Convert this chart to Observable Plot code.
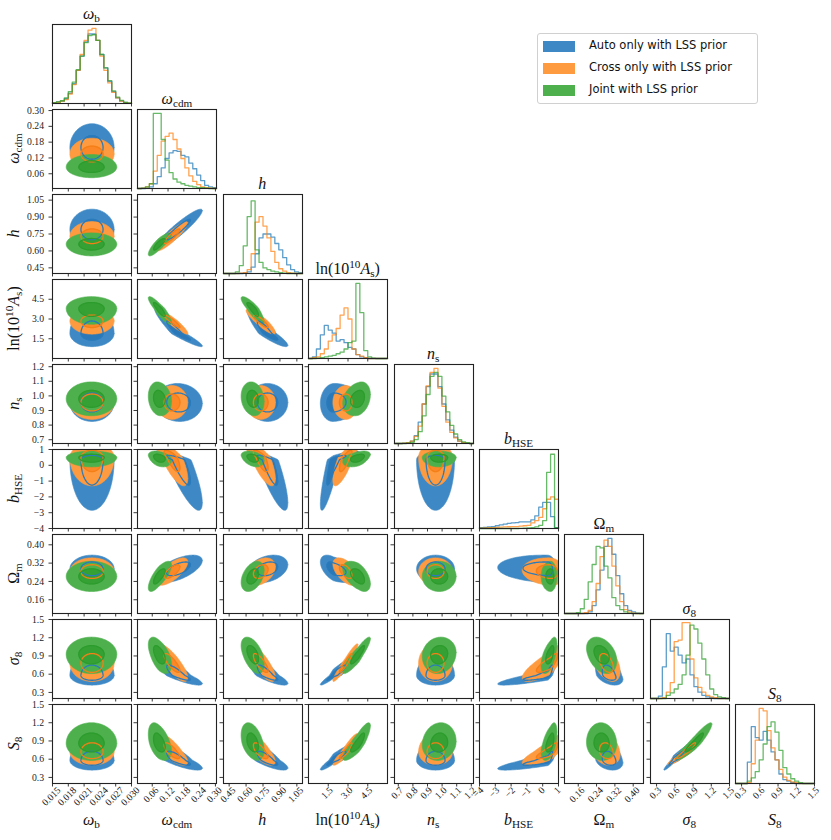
<!DOCTYPE html>
<html><head><meta charset="utf-8">
<script src="https://cdn.jsdelivr.net/npm/d3@7"></script>
<script src="https://cdn.jsdelivr.net/npm/@observablehq/plot@0.6"></script>
<style>
body{margin:0;background:#fff;}
#wrap{position:relative;width:831px;height:840px;overflow:hidden;background:#fff;}
#legend{position:absolute;left:537px;top:33px;width:219px;height:69px;border:1px solid #d0d0d0;border-radius:3px;background:#fff;font-family:"DejaVu Sans",sans-serif;font-size:11.5px;color:#111;}
.lrow{position:absolute;left:0;height:22px;}
.lpatch{position:absolute;left:5px;width:32px;height:11px;}
.ltext{position:absolute;left:51px;white-space:nowrap;}
</style></head>
<body><div id="wrap"></div>
<script>
// ---------------- data ----------------
const PARAMS = ["omega_b","omega_cdm","h","ln10As","n_s","b_HSE","Omega_m","sigma_8","S_8"];
const LABEL_PARTS = [
 [["ω","i"],["b","sub"]],
 [["ω","i"],["cdm","sub"]],
 [["h","i"]],
 [["ln(10","r"],["10","sup"],["A","i"],["s","sub"],[")","r"]],
 [["n","i"],["s","sub"]],
 [["b","i"],["HSE","sub"]],
 [["Ω","r"],["m","sub"]],
 [["σ","i"],["8","sub"]],
 [["S","i"],["8","sub"]]];
const DOMAINS = [[0.015,0.030],[0.004,0.304],[0.40,1.10],[0,6],[0.674,1.215],[-4,1],[0.10,0.445],[0.2,1.5],[0.2,1.5]];
const TICKS = [
 [0.015,0.018,0.021,0.024,0.027,0.030],
 [0.06,0.12,0.18,0.24,0.30],
 [0.45,0.60,0.75,0.90,1.05],
 [1.5,3.0,4.5],
 [0.7,0.8,0.9,1.0,1.1,1.2],
 [-4,-3,-2,-1,0,1],
 [0.16,0.24,0.32,0.40],
 [0.3,0.6,0.9,1.2,1.5],
 [0.3,0.6,0.9,1.2,1.5]];
const TICK_LABELS = [
 ["0.015","0.018","0.021","0.024","0.027","0.030"],
 ["0.06","0.12","0.18","0.24","0.30"],
 ["0.45","0.60","0.75","0.90","1.05"],
 ["1.5","3.0","4.5"],
 ["0.7","0.8","0.9","1.0","1.1","1.2"],
 ["−4","−3","−2","−1","0","1"],
 ["0.16","0.24","0.32","0.40"],
 ["0.3","0.6","0.9","1.2","1.5"],
 ["0.3","0.6","0.9","1.2","1.5"]];
const SERIES_NAMES = ["Auto only with LSS prior","Cross only with LSS prior","Joint with LSS prior"];

// 1D histograms (20 bins over each axis range, height as fraction of panel)
const HIST_AUTO = [
 [0.01,0.02,0.03,0.06,0.13,0.25,0.42,0.6,0.78,0.88,0.88,0.8,0.62,0.45,0.28,0.15,0.07,0.03,0.015,0.005],
 [0,0,0.005,0.02,0.06,0.15,0.26,0.38,0.45,0.48,0.47,0.42,0.4,0.32,0.25,0.17,0.1,0.04,0.02,0.01],
 [0,0,0,0,0,0.005,0.02,0.08,0.25,0.45,0.5,0.5,0.46,0.38,0.3,0.2,0.11,0.05,0.02,0.01],
 [0,0.02,0.12,0.3,0.42,0.36,0.32,0.22,0.24,0.2,0.14,0.12,0.05,0.02,0.01,0,0,0,0,0],
 [0,0,0.005,0.01,0.03,0.1,0.27,0.5,0.72,0.88,0.88,0.72,0.5,0.3,0.17,0.08,0.03,0.01,0.005,0],
 [0.012,0.015,0.02,0.025,0.035,0.045,0.055,0.065,0.07,0.075,0.085,0.085,0.085,0.11,0.16,0.27,0.33,0.33,0.15,0.01],
 [0,0,0,0,0,0,0.02,0.1,0.3,0.55,0.85,0.95,0.75,0.48,0.25,0.1,0.04,0.02,0.005,0],
 [0,0,0.03,0.4,0.82,0.6,0.65,0.55,0.45,0.5,0.3,0.15,0.08,0.04,0.02,0.01,0,0,0,0],
 [0,0,0,0.27,0.72,0.58,0.55,0.66,0.55,0.4,0.3,0.12,0.05,0.03,0.01,0,0,0,0,0]];
const HIST_CROSS = [
 [0.01,0.015,0.03,0.05,0.12,0.24,0.42,0.62,0.8,0.93,0.95,0.8,0.6,0.42,0.26,0.14,0.07,0.03,0.01,0.005],
 [0,0.005,0.02,0.06,0.22,0.42,0.6,0.66,0.7,0.62,0.5,0.38,0.26,0.16,0.09,0.05,0.02,0.01,0.005,0],
 [0,0,0,0,0.005,0.01,0.05,0.25,0.65,0.72,0.6,0.45,0.28,0.14,0.06,0.03,0.01,0.005,0,0],
 [0,0.01,0.02,0.06,0.12,0.22,0.3,0.38,0.55,0.64,0.5,0.12,0.05,0.03,0.01,0,0,0,0,0],
 [0,0,0.005,0.01,0.03,0.09,0.22,0.5,0.73,0.9,0.95,0.7,0.47,0.27,0.14,0.07,0.03,0.01,0.005,0],
 [0.005,0.008,0.01,0.012,0.015,0.018,0.02,0.022,0.025,0.025,0.03,0.035,0.04,0.07,0.1,0.14,0.25,0.37,0.4,0.37],
 [0,0,0,0,0,0.01,0.04,0.15,0.38,0.72,0.93,0.85,0.6,0.35,0.15,0.05,0.02,0.005,0,0],
 [0,0,0,0.01,0.08,0.2,0.72,0.74,0.96,0.96,0.5,0.26,0.14,0.08,0.04,0.02,0.01,0,0,0],
 [0,0,0,0.01,0.25,0.55,0.95,0.92,0.67,0.45,0.3,0.18,0.08,0.04,0.02,0.01,0,0,0,0]];
const HIST_JOINT = [
 [0.01,0.02,0.035,0.07,0.15,0.27,0.43,0.6,0.77,0.86,0.87,0.8,0.62,0.45,0.29,0.16,0.08,0.04,0.015,0.005],
 [0,0.005,0.02,0.06,0.95,0.95,0.62,0.36,0.2,0.12,0.08,0.06,0.04,0.03,0.02,0.01,0.01,0.005,0,0],
 [0,0,0,0.02,0.1,0.35,0.72,0.92,0.3,0.14,0.07,0.05,0.03,0.02,0.01,0.005,0,0,0,0],
 [0,0,0.005,0.01,0.02,0.03,0.04,0.06,0.08,0.12,0.2,0.22,0.95,0.58,0.1,0.02,0.005,0,0,0],
 [0,0,0,0.005,0.015,0.05,0.15,0.35,0.62,0.85,0.9,0.85,0.6,0.4,0.23,0.12,0.05,0.02,0.01,0],
 [0,0,0,0,0,0,0,0,0,0,0.002,0.005,0.008,0.01,0.02,0.04,0.1,0.71,0.94,0.01],
 [0,0,0,0.01,0.06,0.18,0.4,0.62,0.85,0.83,0.6,0.45,0.2,0.1,0.05,0.02,0.005,0,0,0],
 [0,0,0,0,0.04,0.07,0.12,0.18,0.3,0.55,0.93,0.88,0.7,0.5,0.3,0.12,0.05,0.02,0.01,0],
 [0,0,0,0.03,0.07,0.15,0.3,0.5,0.72,0.78,0.65,0.42,0.2,0.12,0.06,0.03,0.01,0,0,0]];

// centre and lower/upper spread of each posterior (per parameter)
const MEAN_AUTO  = [0.0225, 0.160, 0.790, 1.90, 0.955, 0.35, 0.295, 0.58, 0.58];
const SDLO_AUTO  = [0.0021, 0.045, 0.090, 0.50, 0.065, 1.60, 0.030, 0.08, 0.08];
const SDHI_AUTO  = [0.0021, 0.045, 0.090, 0.95, 0.065, 0.28, 0.030, 0.17, 0.15];
const MEAN_CROSS = [0.0225, 0.135, 0.730, 2.85, 0.955, 0.50, 0.283, 0.78, 0.72];
const SDLO_CROSS = [0.0021, 0.030, 0.065, 0.50, 0.058, 0.90, 0.030, 0.15, 0.11];
const SDHI_CROSS = [0.0021, 0.030, 0.065, 0.45, 0.058, 0.45, 0.030, 0.16, 0.15];
const MEAN_JOINT = [0.0224, 0.085, 0.660, 3.80, 0.980, 0.50, 0.262, 0.93, 0.86];
const SDLO_JOINT = [0.0024, 0.020, 0.052, 0.60, 0.058, 0.30, 0.033, 0.16, 0.14];
const SDHI_JOINT = [0.0024, 0.024, 0.050, 0.45, 0.058, 0.20, 0.033, 0.14, 0.17];

// pairwise correlations (row parameter vs column parameter)
const CORR_AUTO = [
 [],
 [0],
 [0, 0.93],
 [0, -0.95, -0.9],
 [0, -0.05, 0, 0.05],
 [0, -0.85, -0.85, 0.88, 0],
 [0, 0.6, 0.3, -0.5, 0, -0.1],
 [0, -0.85, -0.82, 0.95, 0, 0.88, -0.4],
 [0, -0.8, -0.78, 0.93, 0, 0.85, -0.25, 0.96]];
const CORR_CROSS = [
 [],
 [0],
 [0, 0.9],
 [0, -0.93, -0.88],
 [0, 0, 0, 0],
 [0, -0.75, -0.75, 0.8, 0],
 [0, 0.7, 0.35, -0.55, 0, -0.1],
 [0, -0.8, -0.78, 0.95, 0, 0.8, -0.45],
 [0, -0.75, -0.72, 0.92, 0, 0.8, -0.2, 0.95]];
const CORR_JOINT = [
 [],
 [0],
 [0, 0.85],
 [0, -0.88, -0.85],
 [0, -0.15, -0.15, 0.25],
 [0, -0.35, -0.35, 0.45, 0],
 [0, 0.75, 0.4, -0.5, 0, 0],
 [0, -0.55, -0.5, 0.9, 0.1, 0.6, -0.35],
 [0, -0.45, -0.4, 0.85, 0.1, 0.55, -0.05, 0.93]];

// ---------------- styles ----------------
const STYLE = [
 {outer:"#3e89c5", inner:"#2a78b8", line:"#2a7bbb", hist:"#1f77b4"},
 {outer:"#fe9a40", inner:"#fb8726", line:"#f47f16", hist:"#ff7f0e"},
 {outer:"#4db04d", inner:"#35a135", line:"#2c9c2c", hist:"#2ca02c"}];
const SERIES = [
 {mean:MEAN_AUTO, lo:SDLO_AUTO, hi:SDHI_AUTO, corr:CORR_AUTO, hist:HIST_AUTO},
 {mean:MEAN_CROSS, lo:SDLO_CROSS, hi:SDHI_CROSS, corr:CORR_CROSS, hist:HIST_CROSS},
 {mean:MEAN_JOINT, lo:SDLO_JOINT, hi:SDHI_JOINT, corr:CORR_JOINT, hist:HIST_JOINT}];

const X0 = 52, DX = 85.4, Y0 = 24, DY = 85, S = 79, FS = 9.7;

function contour(s, i, j, r) {
  // level curve of a (split) bivariate normal built from the read-off summaries
  const rho = s.corr[i][j];
  const mx = s.mean[j], my = s.mean[i];
  const pts = [];
  const n = 120;
  for (let k = 0; k <= n; k++) {
    const t = 2 * Math.PI * k / n;
    const u = Math.cos(t), v = rho * Math.cos(t) + Math.sqrt(1 - rho * rho) * Math.sin(t);
    pts.push([mx + r * u * (u < 0 ? s.lo[j] : s.hi[j]), my + r * v * (v < 0 ? s.lo[i] : s.hi[i])]);
  }
  return pts;
}

function textWidth(str) {
  let w = 0;
  for (const c of str) w += c === "." ? 0.25 : c === "−" ? 0.564 : 0.5;
  return w * FS;
}

function makePanel(i, j) {
  const isDiag = i === j;
  const marks = [];
  if (isDiag) {
    SERIES.forEach((s, si) => {
      const [lo, hi] = DOMAINS[j];
      const w = (hi - lo) / 20;
      const pts = [[lo, 0]];
      s.hist[j].forEach((v, k) => pts.push([lo + k * w, v]));
      pts.push([hi, 0]);
      marks.push(Plot.line(pts, {x: d => d[0], y: d => d[1], curve: "step-after",
        stroke: STYLE[si].hist, strokeWidth: 1.3, strokeOpacity: 0.72}));
    });
  } else {
    SERIES.forEach((s, si) => {
      marks.push(Plot.line(contour(s, i, j, 2), {x: d => d[0], y: d => d[1], fill: STYLE[si].outer, stroke: STYLE[si].outer, strokeWidth: 0.6, clip: true}));
      marks.push(Plot.line(contour(s, i, j, 1), {x: d => d[0], y: d => d[1], fill: STYLE[si].inner, stroke: STYLE[si].inner, strokeWidth: 0.6, clip: true}));
    });
    SERIES.forEach((s, si) => {
      marks.push(Plot.line(contour(s, i, j, 1), {x: d => d[0], y: d => d[1], stroke: STYLE[si].line, strokeWidth: 1.3, clip: true}));
    });
  }
  marks.push(Plot.frame({stroke: "#222", strokeWidth: 1.1}));
  marks.push(Plot.axisX({ticks: TICKS[j], tickSize: 3.5, tickFormat: () => "", label: null, stroke: "#222", strokeWidth: 0.9}));
  if (!isDiag) {
    marks.push(Plot.axisY({ticks: TICKS[i], tickSize: 3.5, tickPadding: 5, label: null, stroke: "#222", strokeWidth: 0.9, fill: "#222",
      tickFormat: j === 0 ? (d => TICK_LABELS[i][TICKS[i].indexOf(d)]) : (() => "")}));
  }
  if (i === 8) {
    TICKS[j].forEach((t, k) => {
      const lab = TICK_LABELS[j][k];
      const L = textWidth(lab);
      marks.push(Plot.text([t], {x: d => d, frameAnchor: "bottom", text: () => lab, rotate: -45,
        textAnchor: "end", dx: 0.354 * L + 1, dy: 7.4, fill: "#222"}));
    });
  }
  return Plot.plot({
    width: S, height: S, margin: 0,
    x: {domain: DOMAINS[j]},
    y: isDiag ? {domain: [0, 1], axis: null} : {domain: DOMAINS[i]},
    style: {background: "transparent", overflow: "visible", fontFamily: "'Liberation Serif', serif", fontSize: FS + "px", color: "#222", maxWidth: "none"},
    marks
  });
}

const wrap = document.getElementById("wrap");
for (let i = 0; i < 9; i++) for (let j = 0; j <= i; j++) {
  const svg = makePanel(i, j);
  svg.style.position = "absolute";
  svg.style.left = (X0 + j * DX) + "px";
  svg.style.top = (Y0 + i * DY) + "px";
  wrap.appendChild(svg);
}

// math labels overlay
const ov = d3.select(wrap).append("svg").attr("width", 831).attr("height", 840)
  .style("position", "absolute").style("left", 0).style("top", 0).style("overflow", "visible");
function mathText(parent, parts) {
  const t = parent.append("text").attr("text-anchor", "middle")
    .attr("font-family", "'Liberation Serif', serif").attr("font-size", 16).attr("fill", "#111");
  let shift = 0;
  for (const [str, kind] of parts) {
    const sp = t.append("tspan").text(str);
    let target = 0, size = 16;
    if (kind === "sub") { target = 3; size = 11.2; }
    if (kind === "sup") { target = -6; size = 11.2; }
    sp.attr("font-size", size).attr("font-style", kind === "i" ? "italic" : "normal");
    if (target !== shift) { sp.attr("dy", target - shift); shift = target; }
  }
  return t;
}
for (let k = 0; k < 9; k++) {
  const cx = X0 + k * DX + S / 2;
  mathText(ov.append("g").attr("transform", `translate(${cx},${Y0 + k * DY - 5.5})`), LABEL_PARTS[k]);
  mathText(ov.append("g").attr("transform", `translate(${cx},825)`), LABEL_PARTS[k]);
  if (k > 0) mathText(ov.append("g").attr("transform", `translate(19,${Y0 + k * DY + S / 2}) rotate(-90)`), LABEL_PARTS[k]);
}

// legend
const leg = document.createElement("div");
leg.id = "legend";
SERIES_NAMES.forEach((name, k) => {
  const row = document.createElement("div");
  row.className = "lrow";
  row.style.top = (1 + k * 22) + "px";
  const p = document.createElement("div");
  p.className = "lpatch"; p.style.top = "5.5px"; p.style.background = STYLE[k].outer;
  const tx = document.createElement("div");
  tx.className = "ltext"; tx.style.top = "3px"; tx.textContent = name;
  row.appendChild(p); row.appendChild(tx); leg.appendChild(row);
});
wrap.appendChild(leg);
</script></body></html>
